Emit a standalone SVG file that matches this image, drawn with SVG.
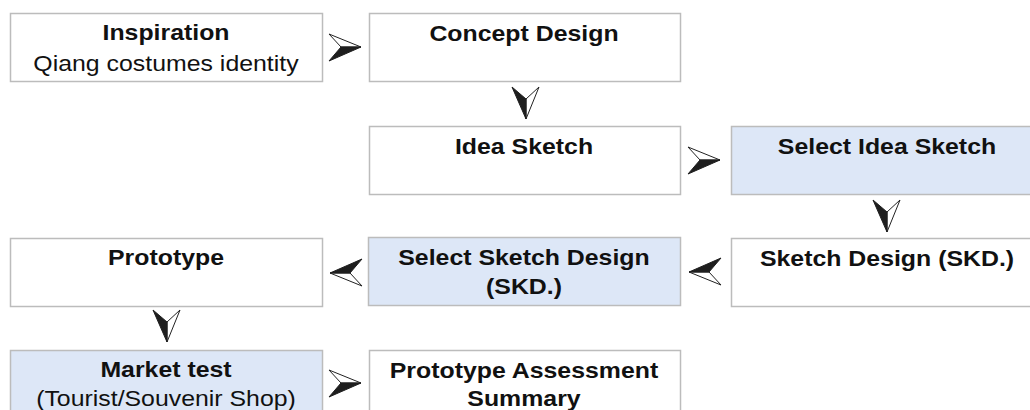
<svg xmlns="http://www.w3.org/2000/svg" width="1030" height="410" viewBox="0 0 1030 410">
<style>
.box{fill:#ffffff;stroke:#bcbcbc;stroke-width:1.5}
.sel{fill:#dde7f7;stroke:#bcbcbc;stroke-width:1.5}
.t{font-family:"Liberation Sans",Arial,sans-serif;font-size:22px;fill:#111;text-anchor:middle}
.b{font-weight:bold}
.aw{fill:#ffffff;stroke:#222;stroke-width:1;stroke-linejoin:miter}
.ad{fill:#1e1e1e;stroke:#1e1e1e;stroke-width:1}
</style>
<defs>
<g id="arr">
<polygon class="aw" points="-32,-13 0,0 -20,0"/>
<polygon class="ad" points="-20,0 0,0 -32,14"/>
</g>
</defs>
<g id="connectors">
<use href="#arr" transform="translate(361,47)"/>
<use href="#arr" transform="translate(526,119) rotate(90)"/>
<use href="#arr" transform="translate(720,160)"/>
<use href="#arr" transform="translate(887,232) rotate(90)"/>
<use href="#arr" transform="translate(689,272) rotate(180)"/>
<use href="#arr" transform="translate(330,273) rotate(180)"/>
<use href="#arr" transform="translate(167,342) rotate(90)"/>
<use href="#arr" transform="translate(361,383)"/>
</g>
<g id="inspiration">
<rect class="box" x="10.5" y="13.5" width="312" height="68"/>
<text class="t b" transform="translate(166,40) scale(1.13,1)">Inspiration</text>
<text class="t" transform="translate(166,71) scale(1.13,1)">Qiang costumes identity</text>
</g>
<g id="concept-design">
<rect class="box" x="369.5" y="13.5" width="311" height="68"/>
<text class="t b" transform="translate(524,41) scale(1.13,1)">Concept Design</text>
</g>
<g id="idea-sketch">
<rect class="box" x="369.5" y="126.5" width="311" height="68"/>
<text class="t b" transform="translate(524,154) scale(1.13,1)">Idea Sketch</text>
</g>
<g id="select-idea-sketch">
<rect class="sel" x="731.5" y="126.5" width="312" height="68"/>
<text class="t b" transform="translate(887,154) scale(1.13,1)">Select Idea Sketch</text>
</g>
<g id="sketch-design">
<rect class="box" x="731.5" y="238.5" width="312" height="68"/>
<text class="t b" transform="translate(887,266) scale(1.13,1)">Sketch Design (SKD.)</text>
</g>
<g id="select-sketch-design">
<rect class="sel" x="368.5" y="237.5" width="312" height="68"/>
<text class="t b" transform="translate(524,265) scale(1.13,1)">Select Sketch Design</text>
<text class="t b" transform="translate(524,294) scale(1.13,1)">(SKD.)</text>
</g>
<g id="prototype">
<rect class="box" x="10.5" y="238.5" width="312" height="68"/>
<text class="t b" transform="translate(166,265) scale(1.13,1)">Prototype</text>
</g>
<g id="market-test">
<rect class="sel" x="10.5" y="350.5" width="312" height="68"/>
<text class="t b" transform="translate(166,377) scale(1.13,1)">Market test</text>
<text class="t" transform="translate(166,406) scale(1.13,1)">(Tourist/Souvenir Shop)</text>
</g>
<g id="prototype-assessment">
<rect class="box" x="369.5" y="350.5" width="311" height="68"/>
<text class="t b" transform="translate(524,378) scale(1.13,1)">Prototype Assessment</text>
<text class="t b" transform="translate(524,406) scale(1.13,1)">Summary</text>
</g>
</svg>
